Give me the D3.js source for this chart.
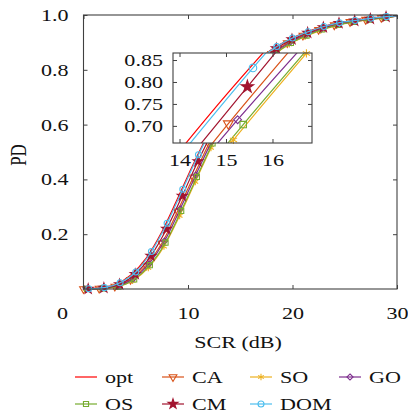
<!DOCTYPE html>
<html>
<head>
<meta charset="utf-8">
<script src="https://cdn.jsdelivr.net/npm/d3@7"></script>
<style>
body{margin:0;background:#fff;}
svg text{font-family:"Liberation Serif","Times New Roman",Times,serif;font-size:17px;fill:#111;}
</style>
</head>
<body>
<script>
//series, in legend order
var names = ["opt","CA","SO","GO","OS","CM","DOM"];
var colors = ["#ff0000","#d95319","#edb120","#7e2f8e","#77ac30","#a2142f","#4dbeee"];
var markers = ["none","triangleDown","asterisk","diamond","square","star","circle"];

//first SCR sample of each series (dB); samples every 1.5 dB, plus a last one at 30 dB
var scrStart = [0, 0, 0.2, 0.25, 0.35, 0.45, 0.5];
var scrStep = 1.5, scrEnd = 30;

//PD values
var pdOpt = [0.000,0.004,0.015,0.050,0.113,0.209,0.330,0.455,0.571,0.673,0.761,0.827,0.874,0.907,0.933,0.953,0.969,0.978,0.986,0.992,0.997];
var pdCA  = [0.000,0.002,0.009,0.034,0.086,0.167,0.284,0.408,0.530,0.637,0.730,0.806,0.858,0.898,0.925,0.946,0.963,0.975,0.983,0.990,0.996];
var pdSO  = [0.000,0.002,0.008,0.030,0.077,0.155,0.267,0.391,0.515,0.623,0.719,0.797,0.853,0.893,0.921,0.944,0.961,0.974,0.982,0.989,0.996];
var pdGO  = [0.000,0.002,0.010,0.037,0.091,0.175,0.292,0.416,0.537,0.644,0.736,0.810,0.861,0.900,0.926,0.948,0.964,0.976,0.983,0.991,0.996];
var pdOS  = [0.000,0.002,0.009,0.035,0.087,0.169,0.285,0.409,0.531,0.638,0.731,0.807,0.859,0.898,0.925,0.947,0.964,0.975,0.983,0.990,0.996];
var pdCM  = [0.000,0.004,0.017,0.054,0.121,0.219,0.340,0.466,0.580,0.682,0.768,0.832,0.878,0.911,0.935,0.955,0.970,0.979,0.986,0.993,0.996];
var pdDOM = [0.001,0.005,0.023,0.062,0.137,0.240,0.364,0.490,0.600,0.700,0.781,0.843,0.885,0.916,0.939,0.958,0.972,0.980,0.988,0.994,0.997];
var pdAll = [pdOpt,pdCA,pdSO,pdGO,pdOS,pdCM,pdDOM];

//inset (zoom) curves: SCR points, PD points, which points carry a marker
var insetScr = [[13.8,15.0,16.1],[14.4,15.05,16.7],[14.8,15.16,16.73,17.0],[14.5,15.25,16.9],[14.7,15.37,17.0],[14.1,15.46,16.4],[13.9,15.58,16.2]];
var insetPd  = [[0.617,0.770,0.902],[0.620,0.705,0.912],[0.622,0.668,0.865,0.898],[0.621,0.714,0.910],[0.617,0.703,0.905],[0.613,0.789,0.910],[0.618,0.832,0.908]];
var insetMarks = [[],[1],[1,2],[1],[1],[1],[1]];

var xTicks = [0,10,20,30];
var yTicks = [0.2,0.4,0.6,0.8,1.0];
var xTicksInset = [14,15,16];
var yTicksInset = [0.70,0.75,0.80,0.85];

var width = 408, height = 414;
var sx = 1.3; //horizontal stretch of glyphs

var svg = d3.select("body").append("svg")
    .attr("width", width)
    .attr("height", height)
    .attr("font-family", "'Liberation Serif','Times New Roman',serif");

var x = d3.scaleLinear().domain([0,30]).range([83.5,397]);
var y = d3.scaleLinear().domain([0,1]).range([289,15]);

//marker path for a type and size
function markerPath(type, size){
    var t = {triangleDown:d3.symbolTriangle, asterisk:d3.symbolAsterisk, diamond:d3.symbolDiamond2,
             square:d3.symbolSquare, star:d3.symbolStar, circle:d3.symbolCircle}[type];
    return d3.symbol(t, size)();
}
function drawMarker(g, type, color, cx, cy, big){
    if (type == "none") return;
    var k = big ? 1.6 : 1;
    var size = {triangleDown:26, asterisk:30, diamond:24, square:26, star:30, circle:28}[type] * k;
    var rot = type == "triangleDown" ? " rotate(180)" : "";
    g.append("path")
        .attr("d", markerPath(type, size))
        .attr("transform", "translate(" + cx + "," + cy + ")" + rot)
        .attr("fill", type == "star" ? color : "none")
        .attr("stroke", color)
        .attr("stroke-width", 1.1);
}

//main curves
var line = d3.line().curve(d3.curveMonotoneX)
    .x(function(d){ return x(d[0]); })
    .y(function(d){ return y(d[1]); });

var curves = svg.append("g");
names.forEach(function(n, i){
    var scr = d3.range(scrStart[i], scrEnd - 0.01, scrStep);
    scr.push(scrEnd);
    var pts = scr.map(function(s, j){ return [s, pdAll[i][j]]; });
    curves.append("path")
        .datum(pts)
        .attr("fill", "none")
        .attr("stroke", colors[i])
        .attr("stroke-width", 1.2)
        .attr("d", line);
    pts.slice(0, pts.length - 1).forEach(function(p){
        drawMarker(curves, markers[i], colors[i], x(p[0]), y(p[1]), false);
    });
});

//frame, ticks and labels
function stretchLabels(g, dx, dy, anchor){
    g.selectAll(".tick text")
        .attr("x", null).attr("y", null).attr("dy", null)
        .attr("text-anchor", anchor)
        .attr("transform", function(){ return "translate(" + dx + "," + dy + ") scale(" + sx + ",1)"; });
}
function frame(xs, ys, xt, yt, fmtX, fmtY, labelGapX, labelGapY){
    var x0 = xs.range()[0], x1 = xs.range()[1], y0 = ys.range()[0], y1 = ys.range()[1];
    var gb = svg.append("g").attr("transform", "translate(0," + y0 + ")")
        .call(d3.axisBottom(xs).tickValues(xt).tickSizeInner(-4).tickSizeOuter(0).tickFormat(fmtX));
    var gt = svg.append("g").attr("transform", "translate(0," + y1 + ")")
        .call(d3.axisTop(xs).tickValues(xt).tickSizeInner(-4).tickSizeOuter(0).tickFormat(""));
    var gl = svg.append("g").attr("transform", "translate(" + x0 + ",0)")
        .call(d3.axisLeft(ys).tickValues(yt).tickSizeInner(-4).tickSizeOuter(0).tickFormat(fmtY));
    var gr = svg.append("g").attr("transform", "translate(" + x1 + ",0)")
        .call(d3.axisRight(ys).tickValues(yt).tickSizeInner(-4).tickSizeOuter(0).tickFormat(""));
    [gb,gt,gl,gr].forEach(function(g){
        g.select(".domain").remove();
        g.selectAll(".tick line").attr("stroke", "#404040");
        g.attr("font-family", null).attr("font-size", null);
    });
    stretchLabels(gb, 0, labelGapY, "middle");
    stretchLabels(gl, -labelGapX, 5.5, "end");
    svg.append("rect")
        .attr("x", x0).attr("y", y1)
        .attr("width", x1 - x0).attr("height", y0 - y1)
        .attr("fill", "none").attr("stroke", "#404040").attr("stroke-width", 1.1);
    return gb;
}
var gbMain = frame(x, y, xTicks, yTicks, d3.format("d"), d3.format(".1f"), 15, 30);
//the origin label sits left of the corner
gbMain.selectAll(".tick text").filter(function(d){ return d == 0; })
    .attr("transform", "translate(-21.5,30) scale(" + sx + ",1)");

svg.append("text")
    .attr("text-anchor", "middle")
    .attr("transform", "translate(238,348) scale(" + sx + ",1)")
    .text("SCR (dB)");
svg.append("text")
    .attr("text-anchor", "middle")
    .attr("transform", "translate(26,155) scale(" + sx + ",1) rotate(-90)")
    .text("PD");

//inset
var xi = d3.scaleLinear().domain([13.86,16.85]).range([173,312]);
var yi = d3.scaleLinear().domain([0.661,0.866]).range([143,53]);

svg.append("rect")
    .attr("x", 173).attr("y", 53).attr("width", 139).attr("height", 90)
    .attr("fill", "#fff");
svg.append("clipPath").attr("id", "insetClip")
    .append("rect").attr("x", 173).attr("y", 53).attr("width", 139).attr("height", 90);

var lineInset = d3.line().curve(d3.curveMonotoneX)
    .x(function(d){ return xi(d[0]); })
    .y(function(d){ return yi(d[1]); });
var insetLines = svg.append("g").attr("clip-path", "url(#insetClip)");
var insetDots = svg.append("g");
names.forEach(function(n, i){
    var pts = insetScr[i].map(function(s, j){ return [s, insetPd[i][j]]; });
    insetLines.append("path")
        .datum(pts)
        .attr("fill", "none")
        .attr("stroke", colors[i])
        .attr("stroke-width", 1.2)
        .attr("d", lineInset);
    insetMarks[i].forEach(function(j){
        drawMarker(insetDots, markers[i], colors[i], xi(pts[j][0]), yi(pts[j][1]), true);
    });
});
frame(xi, yi, xTicksInset, yTicksInset, d3.format("d"), d3.format(".2f"), 10, 23);

//legend
var legCols = [75, 162, 250, 339];
var legRows = [377, 404];
names.forEach(function(n, i){
    var lx = legCols[i % 4], ly = legRows[Math.floor(i / 4)];
    var g = svg.append("g");
    g.append("line")
        .attr("x1", lx).attr("x2", lx + 22)
        .attr("y1", ly).attr("y2", ly)
        .attr("stroke", colors[i]).attr("stroke-width", 1.2);
    drawMarker(g, markers[i], colors[i], lx + 11, ly, false);
    g.append("text")
        .attr("transform", "translate(" + (lx + 30) + "," + (ly + 5.5) + ") scale(" + sx + ",1)")
        .text(n);
});
</script>
</body>
</html>
